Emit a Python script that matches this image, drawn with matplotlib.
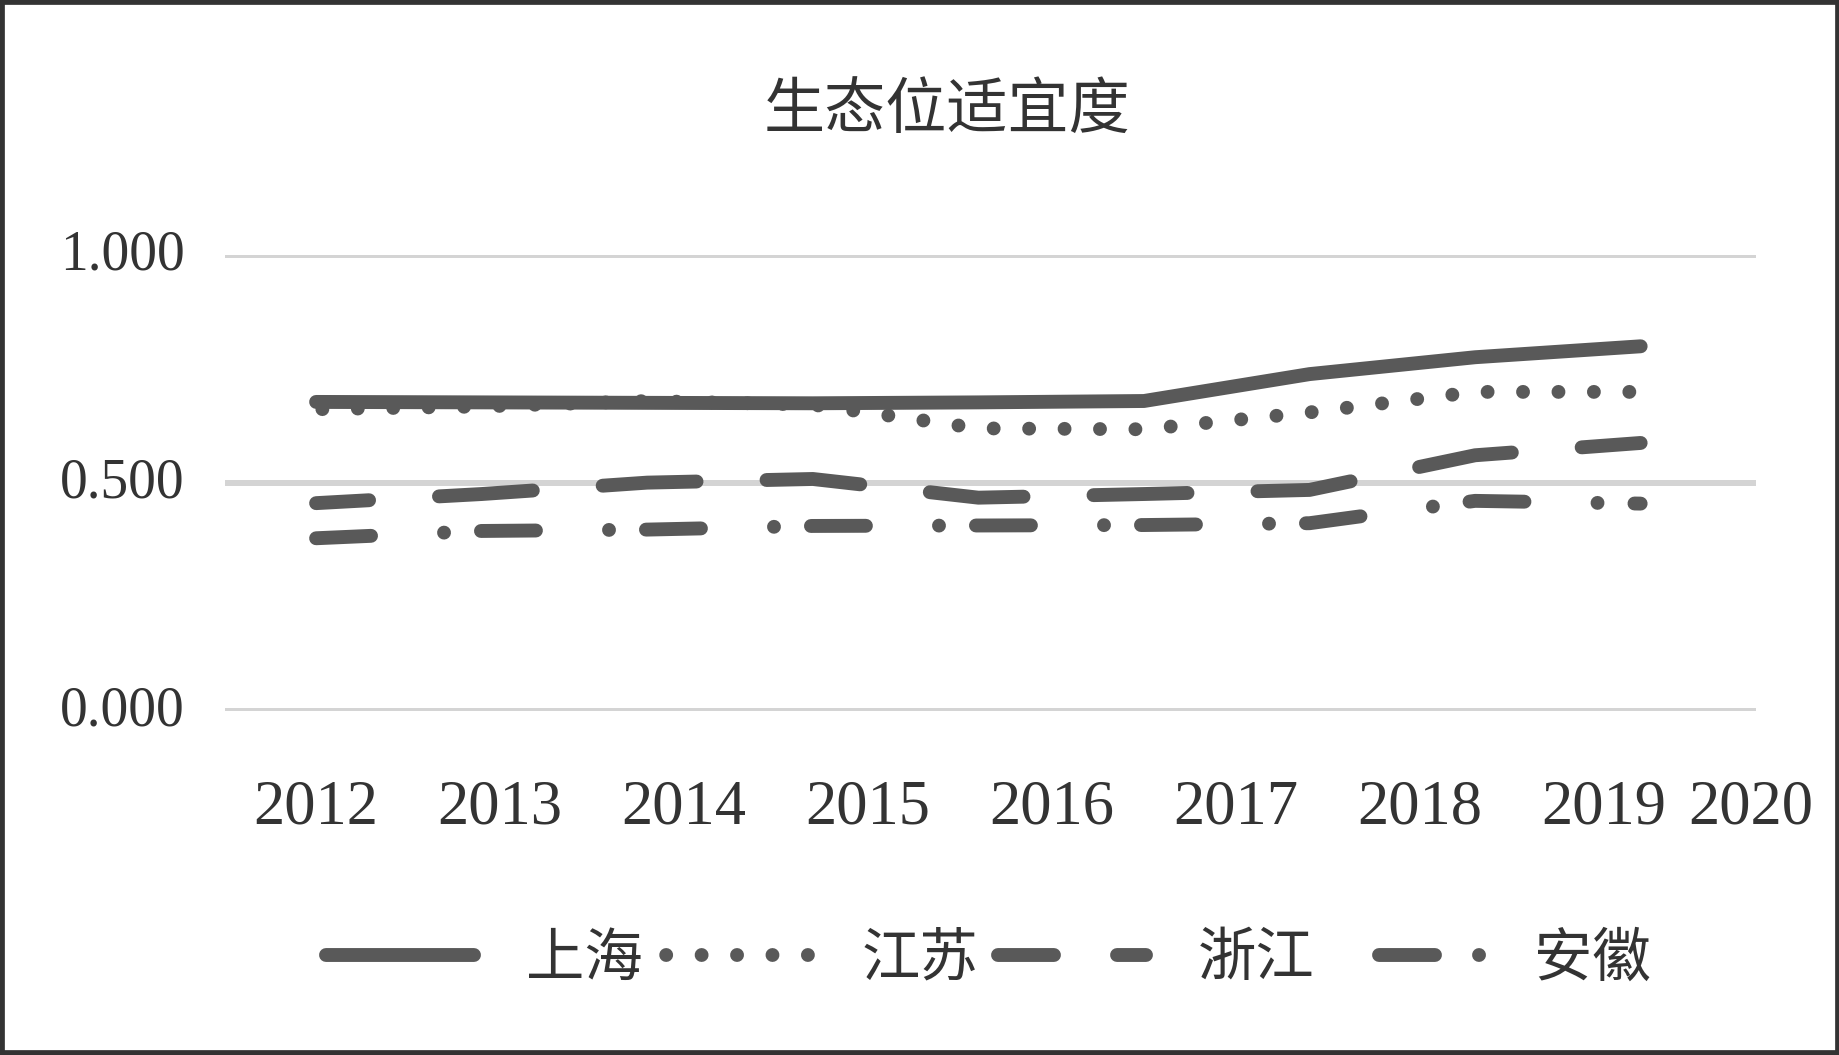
import matplotlib
matplotlib.use("Agg")
import matplotlib.pyplot as plt
from matplotlib.patches import Rectangle
from matplotlib.lines import Line2D

# ---- data ----
years = [2012, 2013, 2014, 2015, 2016, 2017, 2018, 2019, 2020]
year_labels = ["2012", "2013", "2014", "2015", "2016", "2017", "2018", "2019", "2020"]
shanghai = [0.678, 0.677, 0.676, 0.675, 0.677, 0.680, 0.739, 0.776, 0.800]
jiangsu = [0.662, 0.668, 0.680, 0.672, 0.620, 0.618, 0.655, 0.700, 0.700]
zhejiang = [0.456, 0.476, 0.501, 0.509, 0.468, 0.476, 0.485, 0.561, 0.588]
anhui = [0.379, 0.395, 0.398, 0.406, 0.407, 0.408, 0.412, 0.461, 0.455]
series_names = ["上海", "江苏", "浙江", "安徽"]
y_ticks = [0.0, 0.5, 1.0]
y_tick_labels = ["0.000", "0.500", "1.000"]
title = "生态位适宜度"

# ---- style ----
plt.rcParams["lines.scale_dashes"] = False
CJK = ["Noto Sans CJK SC", "DejaVu Sans"]
SERIF = ["Liberation Serif", "DejaVu Serif"]
LINE_C = "#595959"
TEXT_C = "#333333"
GRID_C = "#d4d4d4"
LW = 10.0

fig = plt.figure(figsize=(18.4, 10.55), dpi=100)
fig.patch.set_facecolor("white")
ax = fig.add_axes([0.1223, 0.326, 0.832, 0.4322])

styles = [
    "-",
    (21.0, (0.01, 25.5)),
    (29.5, (67.7, 50.4)),
    (0, (39.6, 52.6, 0.01, 26.6)),
]
legend_styles = [
    "-",
    (22.5, (0.01, 25.5)),
    (0, (40.3, 45.4)),
    (72.7, (40.3, 31.7, 0.01, 33.1)),
]
common = dict(color=LINE_C, lw=LW, solid_capstyle="round", dash_capstyle="round",
              solid_joinstyle="round", dash_joinstyle="round")
for vals, name, st in zip([shanghai, jiangsu, zhejiang, anhui], series_names, styles):
    ax.plot(years, vals, linestyle=st, label=name, **common)

ax.set_ylim(0, 1.0)
ax.set_xlim(2011.45, 2020.696)
ax.set_yticks(y_ticks)
ax.set_yticklabels(y_tick_labels, family=SERIF, fontsize=40, color=TEXT_C)
xtick_pos = [years[0] + i * 10 / 9 for i in range(len(years) - 1)] + [years[0] + 8.667]
ax.set_xticks(xtick_pos)
ax.set_xticklabels(year_labels, family=SERIF, fontsize=45, color=TEXT_C)
ax.tick_params(axis="both", length=0)
ax.tick_params(axis="y", pad=29)
ax.tick_params(axis="x", pad=49)
for s in ax.spines.values():
    s.set_visible(False)
ax.set_axisbelow(True)
ax.grid(axis="y", color=GRID_C, lw=4.3)
ax.grid(axis="x", visible=False)
for lab in ax.get_yticklabels():
    lab.set_verticalalignment("center")

fig.text(0.5147, 0.8948, title, ha="center", va="center", fontsize=44,
         family=CJK, fontweight="light", color=TEXT_C)

handles = [Line2D([], [], linestyle=st, **common) for st in legend_styles]
leg = fig.legend(handles, series_names, loc="center", bbox_to_anchor=(0.537, 0.091),
                 ncol=4, frameon=False,
                 prop=dict(family=CJK, size=42, weight="light"),
                 handlelength=2.54, handletextpad=0.89, columnspacing=0.33)
for t in leg.get_texts():
    t.set_color(TEXT_C)

fig.patches.append(Rectangle((0, 0), 1, 1, transform=fig.transFigure,
                             fill=False, edgecolor="#333333", lw=7, zorder=10))

fig.savefig("out.png", dpi=100, facecolor="white")
